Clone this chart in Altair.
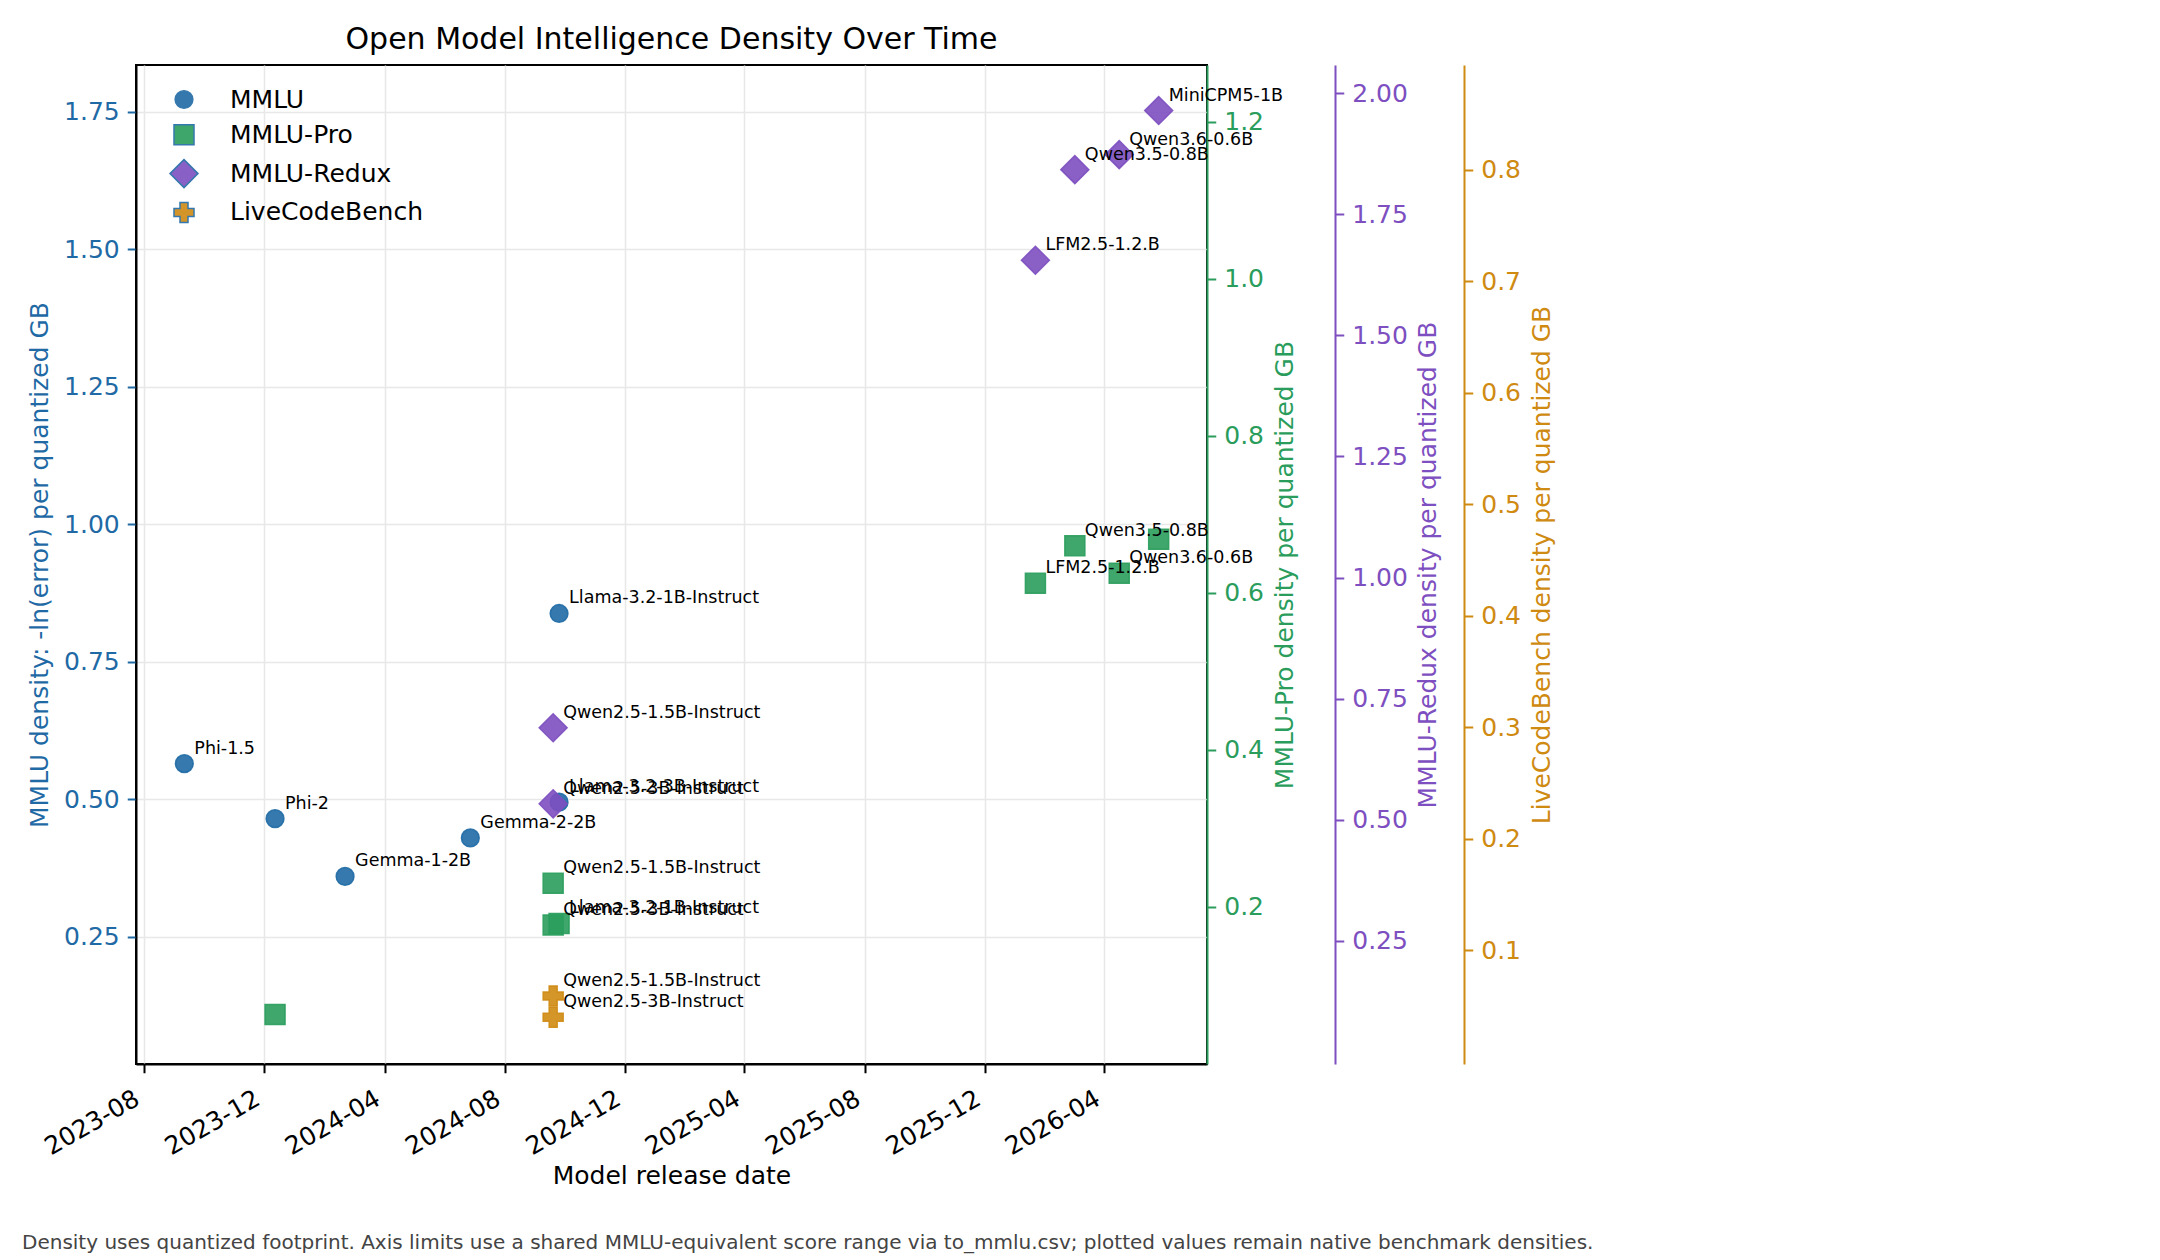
import altair as alt
import pandas as pd

# ---------------- data ----------------
bench_order = ["MMLU", "MMLU-Pro", "MMLU-Redux", "LiveCodeBench"]
bench_colors = ["#1f6aa5", "#2a9d5c", "#7d4fc0", "#cf8a12"]
bench_shapes = ["circle", "square", "diamond", "cross"]
bench_sizes = [314, 400, 784, 400]

mmlu_models = ["Phi-1.5", "Phi-2", "Gemma-1-2B", "Gemma-2-2B",
               "Llama-3.2-1B-Instruct", "Llama-3.2-3B-Instruct"]
mmlu_dates = ["2023-09-11", "2023-12-12", "2024-02-21", "2024-06-27",
              "2024-09-25", "2024-09-25"]
mmlu_values = [0.565, 0.465, 0.360, 0.430, 0.838, 0.495]
mmlu_labeled = [True, True, True, True, True, True]

pro_models = ["Phi-2", "Qwen2.5-1.5B-Instruct", "Qwen2.5-3B-Instruct",
              "Llama-3.2-1B-Instruct", "LFM2.5-1.2.B", "Qwen3.5-0.8B",
              "Qwen3.6-0.6B", "MiniCPM5-1B"]
pro_dates = ["2023-12-12", "2024-09-19", "2024-09-19", "2024-09-25",
             "2026-01-21", "2026-03-02", "2026-04-16", "2026-05-26"]
pro_values = [0.063, 0.230, 0.177, 0.179, 0.612, 0.660, 0.625, 0.668]
pro_labeled = [False, True, True, True, True, True, True, False]

redux_models = ["Qwen2.5-1.5B-Instruct", "Qwen2.5-3B-Instruct", "LFM2.5-1.2.B",
                "Qwen3.5-0.8B", "Qwen3.6-0.6B", "MiniCPM5-1B"]
redux_dates = ["2024-09-19", "2024-09-19", "2026-01-21", "2026-03-02",
               "2026-04-16", "2026-05-26"]
redux_values = [0.690, 0.533, 1.655, 1.842, 1.873, 1.964]
redux_labeled = [True, True, True, True, True, True]

lcb_models = ["Qwen2.5-1.5B-Instruct", "Qwen2.5-3B-Instruct"]
lcb_dates = ["2024-09-19", "2024-09-19"]
lcb_values = [0.059, 0.040]
lcb_labeled = [True, True]

mmlu_ticks = [0.25, 0.50, 0.75, 1.00, 1.25, 1.50, 1.75]
pro_ticks = [0.2, 0.4, 0.6, 0.8, 1.0, 1.2]
redux_ticks = [0.25, 0.50, 0.75, 1.00, 1.25, 1.50, 1.75, 2.00]
lcb_ticks = [0.1, 0.2, 0.3, 0.4, 0.5, 0.6, 0.7, 0.8]

x_tick_months = [(2023, 8), (2023, 12), (2024, 4), (2024, 8), (2024, 12),
                 (2025, 4), (2025, 8), (2025, 12), (2026, 4)]

title_text = "Open Model Intelligence Density Over Time"
footnote_text = ("Density uses quantized footprint. Axis limits use a shared MMLU-equivalent "
                 "score range via to_mmlu.csv; plotted values remain native benchmark densities.")

# ---------------- table ----------------
rows = []
for bench, models, dates, vals, labs in [
    ("MMLU", mmlu_models, mmlu_dates, mmlu_values, mmlu_labeled),
    ("MMLU-Pro", pro_models, pro_dates, pro_values, pro_labeled),
    ("MMLU-Redux", redux_models, redux_dates, redux_values, redux_labeled),
    ("LiveCodeBench", lcb_models, lcb_dates, lcb_values, lcb_labeled),
]:
    for m, d, v, l in zip(models, dates, vals, labs):
        rows.append({"bench": bench, "model": m, "date": d, "value": v,
                     "label": m if l else ""})
df = pd.DataFrame(rows)

FONT = "DejaVu Sans"
W, H = 1071, 999
PAD_L, PAD_T = 136, 65

x_enc = alt.X(
    "date:T",
    scale=alt.Scale(type="utc", domain=[
        alt.DateTime(year=2023, month=7, date=24, utc=True),
        alt.DateTime(year=2026, month=7, date=14, utc=True)]),
    axis=alt.Axis(
        values=[alt.DateTime(year=y, month=m, date=1, utc=True) for y, m in x_tick_months],
        format="%Y-%m", labelAngle=-30, labelAlign="right", labelBaseline="top",
        labelFontSize=25, labelFont=FONT, labelColor="black", labelPadding=13,
        labelOffset=-13,
        tickSize=8.75, tickWidth=2, tickColor="black",
        domainColor="black", domainWidth=2,
        grid=True, gridColor="#e8e8e8", gridWidth=1.5,
        title="Model release date", titleFont=FONT, titleFontSize=25,
        titleFontWeight="normal", titleColor="black",
        titleBaseline="alphabetic", titleY=119),
)


def legend_def():
    return alt.Legend(title=None, orient="none", legendX=33, legendY=22,
                      labelFontSize=25, labelFont=FONT, labelColor="black",
                      labelOffset=31, labelLimit=0, rowPadding=8.3, padding=0,
                      symbolOpacity=0.9)


color_enc = alt.Color("bench:N", scale=alt.Scale(domain=bench_order, range=bench_colors),
                      legend=legend_def())
shape_enc = alt.Shape("bench:N", scale=alt.Scale(domain=bench_order, range=bench_shapes),
                      legend=legend_def())
size_enc = alt.Size("bench:N", scale=alt.Scale(type="ordinal", domain=bench_order, range=bench_sizes),
                    legend=legend_def())


def make_axis(color, ticks, fmt, title, orient, offset, title_x, grid=False, domain_color=None):
    return alt.Axis(
        orient=orient, offset=offset, values=ticks, format=fmt,
        labelFontSize=25, labelFont=FONT, labelColor=color, labelPadding=8,
        tickSize=8.75, tickWidth=2, tickColor=color,
        domainColor=domain_color or color, domainWidth=2,
        grid=grid, gridColor="#e8e8e8", gridWidth=1.5,
        title=title, titleFont=FONT, titleFontSize=25, titleFontWeight="normal",
        titleColor=color, titleAngle=-90, titleAlign="center", titleBaseline="middle",
        titleX=title_x, titleY=H / 2,
    )


specs = [
    ("MMLU", [0.019, 1.835],
     make_axis(bench_colors[0], mmlu_ticks, ".2f", "MMLU density: -ln(error) per quantized GB",
               "left", 0, -97, grid=True, domain_color="black")),
    ("MMLU-Pro", [0.0, 1.272],
     make_axis(bench_colors[1], pro_ticks, ".1f", "MMLU-Pro density per quantized GB",
               "right", 0, 77)),
    ("MMLU-Redux", [-0.004, 2.058],
     make_axis(bench_colors[2], redux_ticks, ".2f", "MMLU-Redux density per quantized GB",
               "right", 128, 92)),
    ("LiveCodeBench", [-0.002, 0.894],
     make_axis(bench_colors[3], lcb_ticks, ".1f", "LiveCodeBench density per quantized GB",
               "right", 257, 77)),
]

layers = []
for i, (bench, dom, axis) in enumerate(specs):
    yscale = alt.Scale(domain=dom, nice=False, zero=False)
    pts = alt.Chart(df).transform_filter(alt.datum.bench == bench).mark_point(
        filled=True, fillOpacity=0.9, stroke=bench_colors[i], strokeOpacity=0.9, strokeWidth=1.5
    ).encode(
        x=x_enc,
        y=alt.Y("value:Q", scale=yscale, axis=axis),
        color=color_enc, shape=shape_enc, size=size_enc,
    )
    txt = alt.Chart(df).transform_filter(
        (alt.datum.bench == bench) & (alt.datum.label != "")
    ).mark_text(
        align="left", baseline="alphabetic", dx=10, dy=-10,
        fontSize=17.5, font=FONT, color="black"
    ).encode(
        x=x_enc,
        y=alt.Y("value:Q", scale=yscale, axis=None),
        text="label:N",
    )
    layers += [pts, txt]

footnote = alt.Chart(pd.DataFrame({"t": [footnote_text]})).mark_text(
    align="left", baseline="alphabetic", fontSize=20, font=FONT, color="#444444"
).encode(x=alt.value(22 - PAD_L), y=alt.value(1249 - PAD_T), text="t:N")
layers.append(footnote)

chart = alt.layer(*layers).resolve_scale(y="independent").properties(
    width=W, height=H,
    autosize=alt.AutoSizeParams(type="none"),
    padding={"left": PAD_L, "top": PAD_T, "right": 2160 - PAD_L - W, "bottom": 1260 - PAD_T - H},
    title=alt.TitleParams(text=title_text, fontSize=30, font=FONT, fontWeight="normal",
                          anchor="middle", baseline="alphabetic", offset=15, dy=29,
                          color="black"),
    background="white",
).configure_view(stroke="black", strokeWidth=2)

chart.save("out.html", embed_options={"renderer": "svg", "actions": False})
